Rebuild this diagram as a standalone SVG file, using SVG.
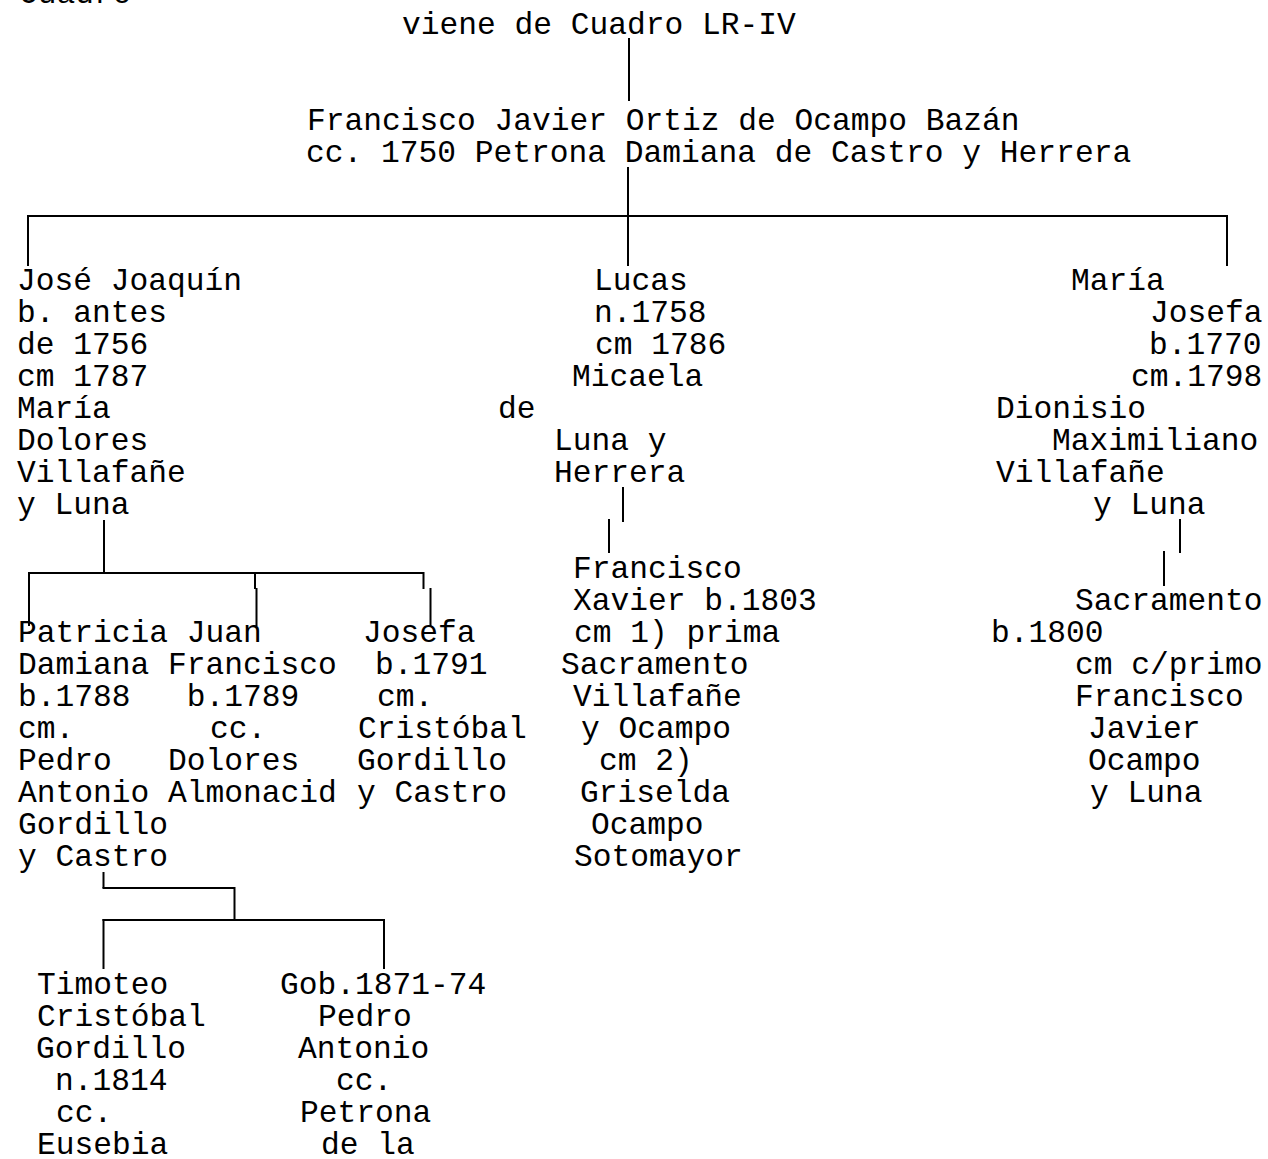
<svg xmlns="http://www.w3.org/2000/svg" width="1268" height="1159" viewBox="0 0 1268 1159">
<style>
text{font-family:"Liberation Mono","Courier New",monospace;font-size:31.25px;fill:#000;white-space:pre}
.c line,.c path{stroke:#000;stroke-width:2;fill:none}
</style>
<rect width="1268" height="1159" fill="#fff"/>
<g id="connectors" class="c">
<line x1="629" y1="38" x2="629" y2="101"/>
<line x1="628" y1="167" x2="628" y2="266"/>
<line x1="28" y1="216" x2="1227" y2="216"/>
<line x1="28" y1="215" x2="28" y2="266"/>
<line x1="1227" y1="215" x2="1227" y2="266"/>
<line x1="623" y1="487" x2="623" y2="522"/>
<line x1="609" y1="519" x2="609" y2="553"/>
<line x1="1180" y1="519" x2="1180" y2="553"/>
<line x1="1164" y1="551" x2="1164" y2="586"/>
<line x1="104" y1="520" x2="104" y2="573"/>
<line x1="29" y1="573" x2="424" y2="573"/>
<line x1="29" y1="572" x2="29" y2="626"/>
<path d="M255,573 V589 M256.5,588 V626"/>
<path d="M423.5,572 V589 M430.5,588 V626"/>
<line x1="103.5" y1="872" x2="103.5" y2="888"/>
<line x1="102.5" y1="888" x2="235" y2="888"/>
<line x1="234.5" y1="887" x2="234.5" y2="920"/>
<line x1="102.5" y1="920" x2="385" y2="920"/>
<line x1="103.5" y1="919" x2="103.5" y2="969"/>
<line x1="384" y1="919" x2="384" y2="969"/>
</g>
<g id="title"><text x="19" y="3">Cuadro</text></g>
<g id="viene"><text x="402" y="34">viene de Cuadro LR-IV</text></g>
<g id="root">
<text x="307" y="130">Francisco Javier Ortiz de Ocampo Bazán</text>
<text x="306" y="162">cc. 1750 Petrona Damiana de Castro y Herrera</text>
</g>
<g id="jose"><text>
<tspan x="17" y="290">José Joaquín</tspan>
<tspan x="17" y="322">b. antes</tspan>
<tspan x="17" y="354">de 1756</tspan>
<tspan x="17" y="386">cm 1787</tspan>
<tspan x="17" y="418">María</tspan>
<tspan x="17" y="450">Dolores</tspan>
<tspan x="17" y="482">Villafañe</tspan>
<tspan x="17" y="514">y Luna</tspan>
</text></g>
<g id="lucas"><text>
<tspan x="594" y="290">Lucas</tspan>
<tspan x="594" y="322">n.1758</tspan>
<tspan x="595" y="354">cm 1786</tspan>
<tspan x="572" y="386">Micaela</tspan>
<tspan x="498" y="418">de</tspan>
<tspan x="554" y="450">Luna y</tspan>
<tspan x="554" y="482">Herrera</tspan>
</text></g>
<g id="maria-josefa"><text>
<tspan x="1071" y="290">María</tspan>
<tspan x="1150" y="322">Josefa</tspan>
<tspan x="1149" y="354">b.1770</tspan>
<tspan x="1131" y="386">cm.1798</tspan>
<tspan x="996" y="418">Dionisio</tspan>
<tspan x="1052" y="450">Maximiliano</tspan>
<tspan x="996" y="482">Villafañe</tspan>
<tspan x="1093" y="514">y Luna</tspan>
</text></g>
<g id="francisco-xavier"><text>
<tspan x="573" y="578">Francisco</tspan>
<tspan x="573" y="610">Xavier b.1803</tspan>
<tspan x="574" y="642">cm 1) prima</tspan>
<tspan x="561" y="674">Sacramento</tspan>
<tspan x="573" y="706">Villafañe</tspan>
<tspan x="581" y="738">y Ocampo</tspan>
<tspan x="599" y="770">cm 2)</tspan>
<tspan x="580" y="802">Griselda</tspan>
<tspan x="591" y="834">Ocampo</tspan>
<tspan x="574" y="866">Sotomayor</tspan>
</text></g>
<g id="sacramento"><text>
<tspan x="1075" y="610">Sacramento</tspan>
<tspan x="991" y="642">b.1800</tspan>
<tspan x="1075" y="674">cm c/primo</tspan>
<tspan x="1075" y="706">Francisco</tspan>
<tspan x="1088" y="738">Javier</tspan>
<tspan x="1088" y="770">Ocampo</tspan>
<tspan x="1090" y="802">y Luna</tspan>
</text></g>
<g id="patricia"><text>
<tspan x="18" y="642">Patricia</tspan>
<tspan x="18" y="674">Damiana</tspan>
<tspan x="18" y="706">b.1788</tspan>
<tspan x="18" y="738">cm.</tspan>
<tspan x="18" y="770">Pedro</tspan>
<tspan x="18" y="802">Antonio</tspan>
<tspan x="18" y="834">Gordillo</tspan>
<tspan x="18" y="866">y Castro</tspan>
</text></g>
<g id="juan-francisco"><text>
<tspan x="186.75" y="642">Juan</tspan>
<tspan x="168" y="674">Francisco</tspan>
<tspan x="186.75" y="706">b.1789</tspan>
<tspan x="210" y="738">cc.</tspan>
<tspan x="168" y="770">Dolores</tspan>
<tspan x="168" y="802">Almonacid</tspan>
</text></g>
<g id="josefa"><text>
<tspan x="363" y="642">Josefa</tspan>
<tspan x="375" y="674">b.1791</tspan>
<tspan x="377" y="706">cm.</tspan>
<tspan x="358" y="738">Cristóbal</tspan>
<tspan x="357" y="770">Gordillo</tspan>
<tspan x="357" y="802">y Castro</tspan>
</text></g>
<g id="timoteo"><text>
<tspan x="37" y="994">Timoteo</tspan>
<tspan x="37" y="1026">Cristóbal</tspan>
<tspan x="36" y="1058">Gordillo</tspan>
<tspan x="55" y="1090">n.1814</tspan>
<tspan x="56" y="1122">cc.</tspan>
<tspan x="37" y="1154">Eusebia</tspan>
</text></g>
<g id="pedro-antonio"><text>
<tspan x="280" y="994">Gob.1871-74</tspan>
<tspan x="318" y="1026">Pedro</tspan>
<tspan x="298" y="1058">Antonio</tspan>
<tspan x="336" y="1090">cc.</tspan>
<tspan x="300" y="1122">Petrona</tspan>
<tspan x="321" y="1154">de la</tspan>
</text></g>
</svg>
